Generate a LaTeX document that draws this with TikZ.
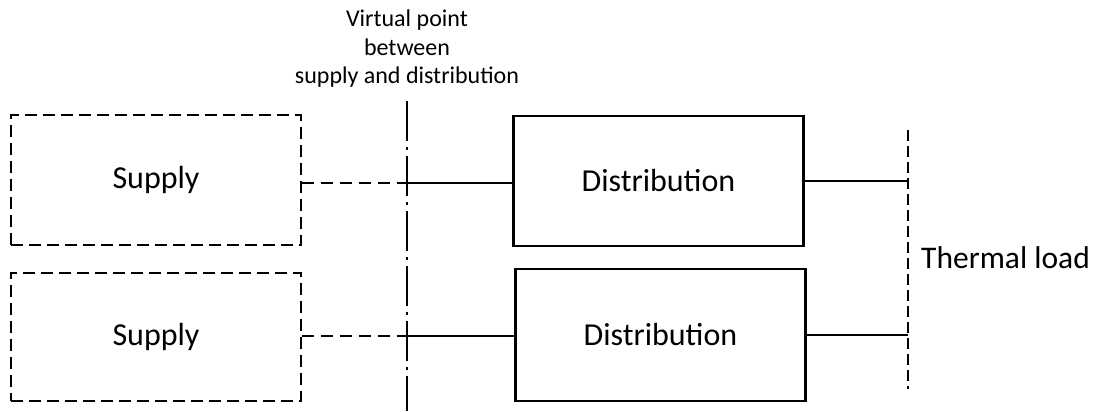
\documentclass[tikz,border=0pt]{standalone}
\usepackage{fontspec}
\setmainfont{Carlito}
\begin{document}
\begin{tikzpicture}[x=1pt,y=-1pt,
  supplybox/.style={draw,dash pattern=on 12pt off 6pt,line width=1.4pt,minimum width=290pt,minimum height=130pt,inner sep=0pt,font=\fontsize{32}{36}\selectfont},
  distbox/.style={draw,line width=2.6pt,minimum width=290pt,minimum height=130pt,inner sep=0pt,font=\fontsize{32}{36}\selectfont},
  solidline/.style={line width=2.2pt},
  dashline/.style={line width=1.4pt,dash pattern=on 12pt off 7pt},
  loadline/.style={line width=1.4pt,dash pattern=on 11pt off 5pt},
  virtline/.style={line width=1.4pt,dash pattern=on 40pt off 6pt on 3pt off 6pt}]
\useasboundingbox (0,0) rectangle (1095,412);
\node[supplybox] (s1) at (156,180) {Supply};
\node[supplybox,minimum height=128pt] (s2) at (156,337) {Supply};
\node[distbox,minimum height=130pt] (d1) at (658.5,181) {Distribution};
\node[distbox,minimum height=132pt] (d2) at (660.5,335) {Distribution};
\coordinate (vtop) at (407,101);
\coordinate (vbot) at (407,411);
\coordinate (v1) at (407,183);
\coordinate (v2) at (407,336);
\coordinate (ltop) at (908,130);
\coordinate (lbot) at (908,389);
\coordinate (l1) at (908,181);
\coordinate (l2) at (908,335);
\draw[virtline] (vtop) -- (vbot);
\draw[loadline] (ltop) -- (lbot);
\node[align=center,font=\fontsize{24}{28}\selectfont,anchor=base,inner sep=0pt] (vtext) at (407,83) {Virtual point\\between\\supply and distribution};
\node[anchor=west,font=\fontsize{31.5}{36}\selectfont,inner sep=0pt] (tl) at (921,258) {Thermal load};
\draw[dashline] (s1.east |- v1) -- (v1);
\draw[solidline] (v1) -- (v1 -| d1.west);
\draw[dashline] (s2.east |- v2) -- (v2);
\draw[solidline] (v2) -- (v2 -| d2.west);
\draw[solidline] (d1.east |- l1) -- (l1);
\draw[solidline] (d2.east |- l2) -- (l2);
\end{tikzpicture}
\end{document}
